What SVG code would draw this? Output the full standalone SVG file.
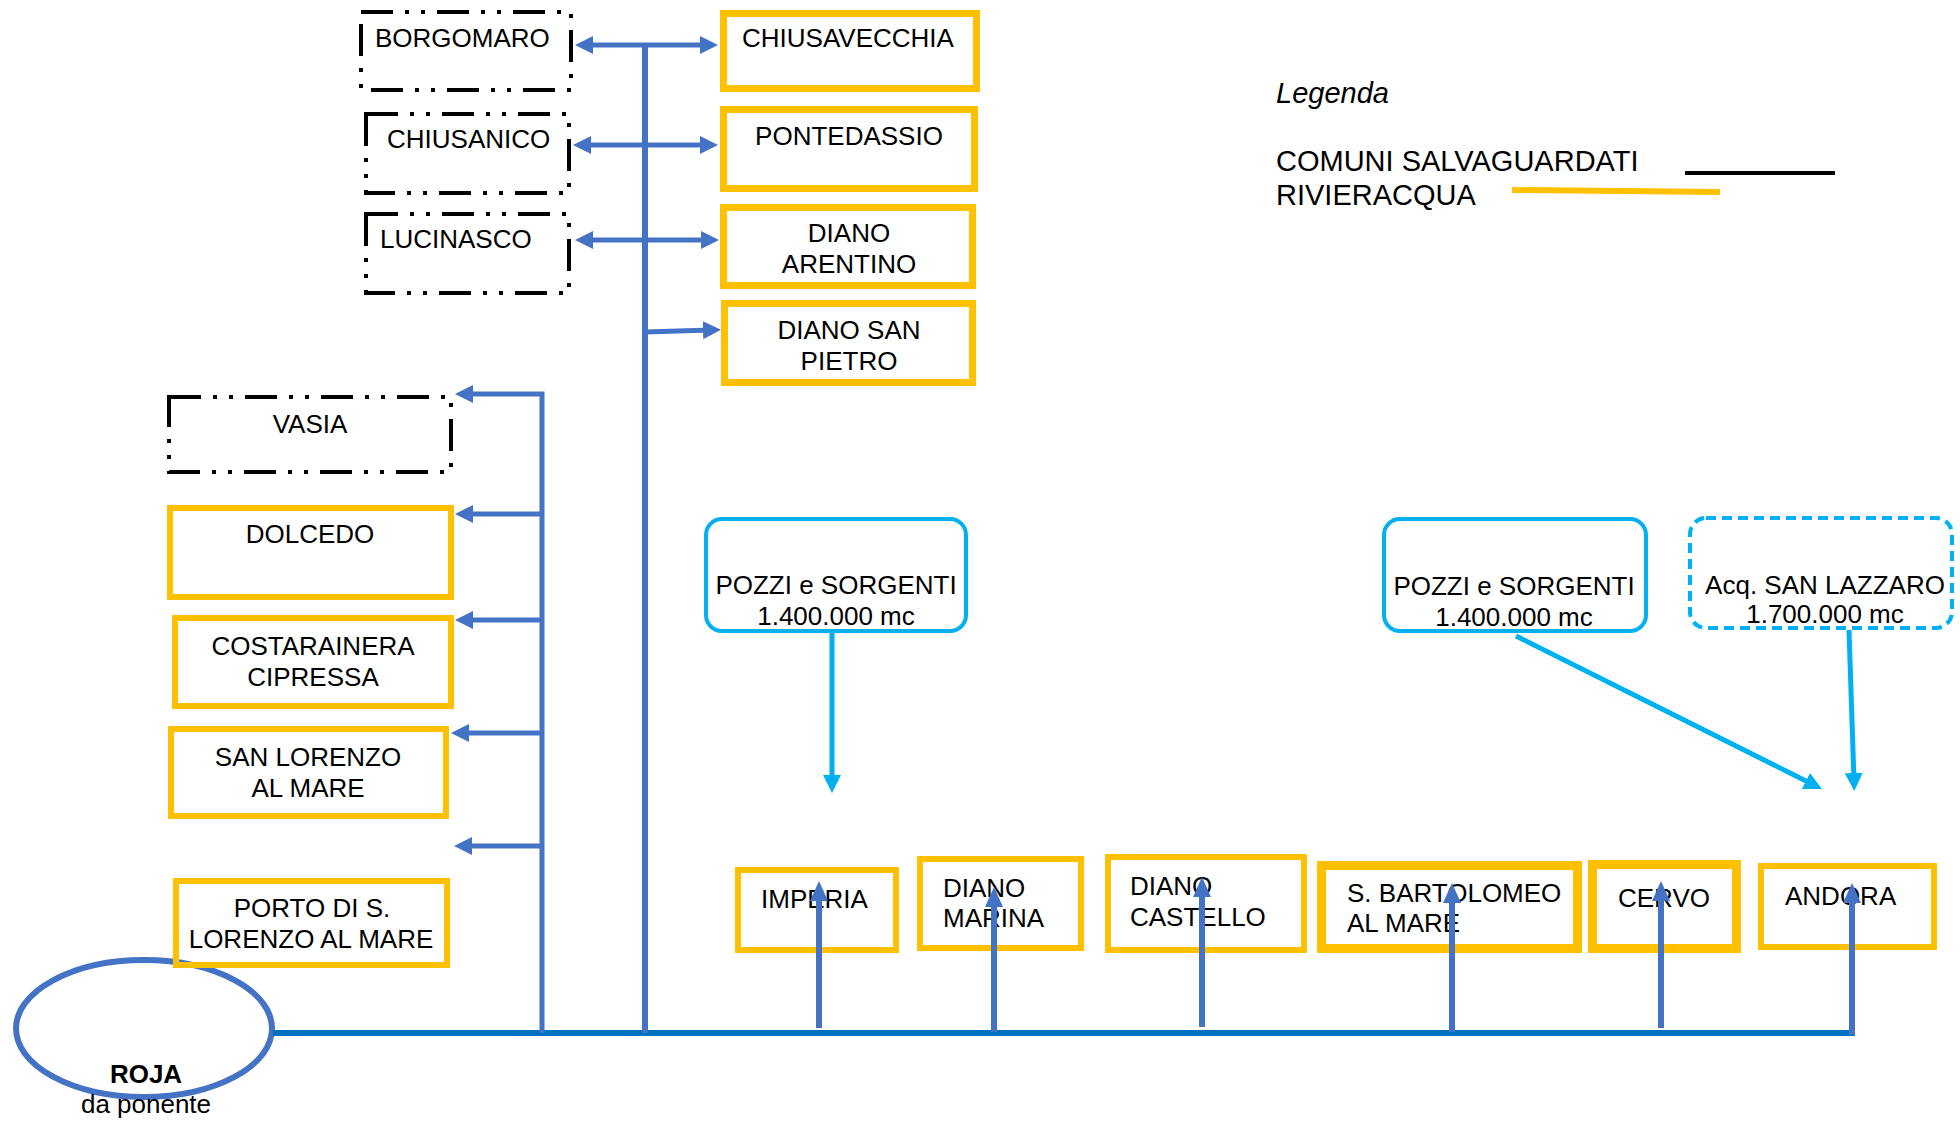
<svg xmlns="http://www.w3.org/2000/svg" width="1960" height="1121" viewBox="0 0 1960 1121">
  <style>
    text { font-family: "Liberation Sans", Arial, sans-serif; font-size: 26px; fill: #000; }
    .c { text-anchor: middle; }
    .ygl { fill: none; stroke: #FFC000; stroke-width: 6; }
    .ygh { fill: none; stroke: #FFC000; stroke-width: 9; }
    .ygt { fill: none; stroke: #FFC000; stroke-width: 7; }
    .dd { fill: none; stroke: #000; stroke-width: 4; stroke-dasharray: 32 12 4 12 4 12; }
    .src { fill: none; stroke: #00B0F0; stroke-width: 4; }
    .srcd { fill: none; stroke: #00B0F0; stroke-width: 4; stroke-dasharray: 10 6; }
    .pipe { stroke: #4472C4; stroke-width: 5; fill: none; }
    .up { stroke: #4472C4; stroke-width: 6; fill: none; marker-end: url(#au); }
    .feed { stroke: #00B0F0; stroke-width: 5; fill: none; marker-end: url(#ac); }
    .lg { font-size: 29px; }
  </style>
  <defs>
    <marker id="ab" viewBox="0 0 18 18" markerWidth="18" markerHeight="18" refX="8" refY="9" orient="auto-start-reverse" markerUnits="userSpaceOnUse">
      <path d="M0,0 L18,9 L0,18 z" fill="#4472C4"/>
    </marker>
    <marker id="au" viewBox="0 0 20 18" markerWidth="20" markerHeight="18" refX="10" refY="9" orient="auto" markerUnits="userSpaceOnUse">
      <path d="M0,0 L20,9 L0,18 z" fill="#4472C4"/>
    </marker>
    <marker id="ac" viewBox="0 0 18 18" markerWidth="18" markerHeight="18" refX="8" refY="9" orient="auto" markerUnits="userSpaceOnUse">
      <path d="M0,0 L18,9 L0,18 z" fill="#00B0F0"/>
    </marker>
  </defs>

  <!-- upper valley -->
  <g id="borgomaro"><rect class="dd" x="361" y="12" width="210" height="78"/><text x="375" y="47">BORGOMARO</text></g>
  <g id="chiusanico"><rect class="dd" x="366" y="114" width="203" height="79"/><text x="387" y="148">CHIUSANICO</text></g>
  <g id="lucinasco"><rect class="dd" x="366" y="214" width="203" height="79"/><text x="380" y="248">LUCINASCO</text></g>
  <g id="chiusavecchia"><rect class="ygt" x="723.5" y="13.5" width="253" height="75"/><text class="c" x="848" y="47">CHIUSAVECCHIA</text></g>
  <g id="pontedassio"><rect class="ygt" x="723.5" y="109.5" width="251" height="79"/><text class="c" x="849" y="145">PONTEDASSIO</text></g>
  <g id="diano-arentino"><rect class="ygt" x="723.5" y="207.5" width="249" height="78"/><text class="c" x="849" y="242">DIANO</text><text class="c" x="849" y="273">ARENTINO</text></g>
  <g id="diano-san-pietro"><rect class="ygt" x="724.5" y="303.5" width="248" height="79"/><text class="c" x="849" y="339">DIANO SAN</text><text class="c" x="849" y="370">PIETRO</text></g>

  <!-- western branch -->
  <g id="vasia"><rect class="dd" x="169" y="397" width="282" height="75"/><text class="c" x="310" y="433">VASIA</text></g>
  <g id="dolcedo"><rect class="ygl" x="170" y="508" width="281" height="89"/><text class="c" x="310" y="543">DOLCEDO</text></g>
  <g id="costarainera"><rect class="ygl" x="175" y="618" width="276" height="88"/><text class="c" x="313" y="655">COSTARAINERA</text><text class="c" x="313" y="686">CIPRESSA</text></g>
  <g id="san-lorenzo"><rect class="ygl" x="171" y="729" width="275" height="87"/><text class="c" x="308" y="766">SAN LORENZO</text><text class="c" x="308" y="797">AL MARE</text></g>

  <!-- source -->
  <g id="roja">
    <ellipse cx="144" cy="1028.5" rx="128" ry="68.5" fill="none" stroke="#4472C4" stroke-width="6"/>
    <text class="c" x="146" y="1083" font-weight="bold">ROJA</text>
    <text class="c" x="146" y="1113">da ponente</text>
  </g>
  <g id="porto-san-lorenzo"><rect class="ygl" x="176" y="881" width="271" height="84"/><text class="c" x="312" y="917">PORTO DI S.</text><text class="c" x="311" y="948">LORENZO AL MARE</text></g>

  <!-- supplementary sources -->
  <g id="pozzi-imperia"><rect class="src" x="706" y="519" width="260" height="112" rx="16"/><text class="c" x="836" y="594">POZZI e SORGENTI</text><text class="c" x="836" y="625">1.400.000 mc</text></g>
  <g id="pozzi-levante"><rect class="src" x="1384" y="519" width="262" height="112" rx="16"/><text class="c" x="1514" y="595">POZZI e SORGENTI</text><text class="c" x="1514" y="626">1.400.000 mc</text></g>
  <g id="san-lazzaro"><rect class="srcd" x="1690" y="518" width="262" height="110" rx="16"/><text class="c" x="1825" y="594">Acq. SAN LAZZARO</text><text class="c" x="1825" y="623">1.700.000 mc</text></g>

  <!-- coastal towns -->
  <g id="imperia"><rect class="ygl" x="738" y="870" width="158" height="80"/><text x="761" y="908">IMPERIA</text></g>
  <g id="diano-marina"><rect class="ygl" x="920" y="859" width="161" height="89"/><text x="943" y="897">DIANO</text><text x="943" y="927">MARINA</text></g>
  <g id="diano-castello"><rect class="ygl" x="1108" y="857" width="196" height="93"/><text x="1130" y="895">DIANO</text><text x="1130" y="926">CASTELLO</text></g>
  <g id="san-bartolomeo"><rect class="ygh" x="1321.5" y="865.5" width="256" height="83"/><text x="1347" y="902">S. BARTOLOMEO</text><text x="1347" y="932">AL MARE</text></g>
  <g id="cervo"><rect class="ygh" x="1592.5" y="864.5" width="144" height="84"/><text x="1618" y="907">CERVO</text></g>
  <g id="andora"><rect class="ygl" x="1761" y="866" width="173" height="81"/><text x="1785" y="905">ANDORA</text></g>

  <!-- legend -->
  <g id="legend">
    <text class="lg" x="1276" y="103" font-style="italic">Legenda</text>
    <text class="lg" x="1276" y="171">COMUNI SALVAGUARDATI</text>
    <text class="lg" x="1276" y="205">RIVIERACQUA</text>
    <line x1="1685" y1="173" x2="1835" y2="173" stroke="#000" stroke-width="4"/>
    <line x1="1512" y1="190" x2="1720" y2="192" stroke="#FFC000" stroke-width="6"/>
  </g>

  <g id="connectors">
    <!-- main aqueduct -->
    <line x1="273" y1="1033" x2="1855" y2="1033" stroke="#0070C0" stroke-width="6"/>
    <!-- central riser -->
    <line x1="645" y1="45" x2="645" y2="1033" stroke="#4472C4" stroke-width="6"/>
    <line class="pipe" x1="585" y1="45" x2="708" y2="45" marker-start="url(#ab)" marker-end="url(#ab)"/>
    <line class="pipe" x1="583" y1="145" x2="708" y2="145" marker-start="url(#ab)" marker-end="url(#ab)"/>
    <line class="pipe" x1="585" y1="240" x2="709" y2="240" marker-start="url(#ab)" marker-end="url(#ab)"/>
    <line class="pipe" x1="645" y1="332" x2="711" y2="330" marker-end="url(#ab)"/>
    <!-- western riser -->
    <polyline class="pipe" points="542,1033 542,394 465,394" marker-end="url(#ab)"/>
    <line class="pipe" x1="542" y1="514" x2="465" y2="514" marker-end="url(#ab)"/>
    <line class="pipe" x1="542" y1="620" x2="465" y2="620" marker-end="url(#ab)"/>
    <line class="pipe" x1="542" y1="733" x2="461" y2="733" marker-end="url(#ab)"/>
    <line class="pipe" x1="542" y1="846" x2="464" y2="846" marker-end="url(#ab)"/>
    <!-- coastal offtakes -->
    <line class="up" x1="819" y1="1028" x2="819" y2="891"/>
    <line class="up" x1="994" y1="1032" x2="994" y2="897"/>
    <line class="up" x1="1202" y1="1027" x2="1202" y2="887"/>
    <line class="up" x1="1452" y1="1032" x2="1452" y2="893"/>
    <line class="up" x1="1661" y1="1028" x2="1661" y2="891"/>
    <line class="up" x1="1852" y1="1035" x2="1852" y2="893"/>
    <!-- local sources -->
    <line class="feed" x1="832" y1="633" x2="832" y2="783"/>
    <line class="feed" x1="1516" y1="636" x2="1813" y2="784.5" stroke-width="6"/>
    <line class="feed" x1="1849" y1="630" x2="1854" y2="781" stroke-width="4"/>
  </g>
</svg>
